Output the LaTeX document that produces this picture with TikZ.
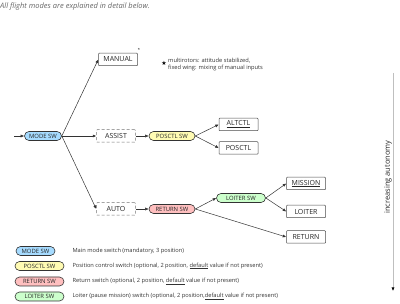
\documentclass[tikz,border=0pt]{standalone}
\usepackage{fontspec}
\setmainfont{Open Sans}
\newfontfamily\symfont{DejaVu Sans}
\usetikzlibrary{arrows.meta}
\begin{document}
\begin{tikzpicture}
[x=1pt, y=-1pt, font=\fontsize{7}{8}\selectfont, >={Latex[length=3.5pt,width=3pt]}]

\tikzstyle{mode}=[draw=black!70, fill=white, line width=0.5pt, rounded corners=0.8pt, minimum width=39pt, minimum height=12.5pt, inner sep=0pt, text=black!85]
\tikzstyle{pending}=[mode, draw=black!55, densely dashed]
\tikzstyle{switch}=[draw=black!80, line width=0.6pt, rounded corners=4.5pt, minimum height=9pt, inner sep=1pt, font=\fontsize{5.9}{6}\selectfont, text=black!85]
\tikzstyle{legend}=[anchor=west, font=\fontsize{5.7}{6}\selectfont, text=black!80]
\tikzstyle{link}=[->, black!80, line width=0.5pt]

\useasboundingbox (0,0) rectangle (400,304);

% title
\node[anchor=west, inner sep=0pt, text=black!60, font=\fontsize{7.5}{8}\selectfont\itshape] (title) at (0,7) {All flight modes are explained in detail below.};

% switches
\node[switch, fill=blue!40!cyan!35, minimum width=37pt]   (modesw)   at (43,136)  {MODE SW};
\node[switch, fill=yellow!30, minimum width=46pt]          (posctlsw) at (172,136) {POSCTL SW};
\node[switch, fill=red!25, minimum width=46pt]             (returnsw) at (172,209) {RETURN SW};
\node[switch, fill=green!20, minimum width=49pt]           (loitersw) at (241,198) {LOITER SW};

% modes
\node[mode]    (manual)  at (118,59.5) {MANUAL};
\node[pending] (assist)  at (116,136)  {ASSIST};
\node[pending] (auto)    at (116,209)  {AUTO};
\node[mode]    (altctl)  at (238.5,124.5) {\underline{ALTCTL}};
\node[mode]    (posctl)  at (238.5,148)   {POSCTL};
\node[mode]    (mission) at (306,183.5)   {\underline{MISSION}};
\node[mode]    (loiter)  at (306,211.5)   {LOITER};
\node[mode]    (return)  at (306,237)     {RETURN};

% note on manual
\node[inner sep=0pt, font=\fontsize{4}{4}\selectfont] (ast) at (139,50) {*};
\node[inner sep=0pt, font=\fontsize{6}{6}\selectfont\symfont] (star) at (164,63) {★};
\node[anchor=north west, inner sep=0pt, align=left, font=\fontsize{5.7}{7.2}\selectfont, text=black!80] (note) at (168,57.5)
  {multirotors: attitude stabilized,\\fixed wing: mixing of manual inputs};

% connections
\coordinate (start) at (14,136);
\draw[link] (start) -- (modesw);
\draw[link] (modesw.east) -- (manual.west);
\draw[link] (modesw) -- (assist);
\draw[link] (modesw.east) -- (auto.west);
\draw[link] (assist) -- (posctlsw);
\draw[link] (posctlsw.east) -- (altctl.west);
\draw[link] (posctlsw.east) -- (posctl.west);
\draw[link] (auto) -- (returnsw);
\draw[link] (returnsw.east) -- (loitersw.west);
\draw[link] (returnsw.east) -- (return.west);
\draw[link] (loitersw.east) -- (mission.west);
\draw[link] (loitersw.east) -- (loiter.west);

% autonomy axis
\coordinate (axtop) at (393,73);
\coordinate (axbot) at (393,291);
\draw[black!25, line width=0.6pt, -{Latex[length=3.5pt,width=3pt,black]}] (axtop) -- (axbot);
\node[rotate=90, inner sep=0pt, text=black!85, font=\fontsize{7.5}{8}\selectfont] (axlabel) at (388,177) {increasing autonomy};

% legend
\node[switch, fill=blue!40!cyan!35, minimum width=39pt] (lmode)   at (35.5,251)  {MODE SW};
\node[switch, fill=yellow!30, minimum width=49pt]       (lposctl) at (39.5,266)  {POSCTL SW};
\node[switch, fill=red!25, minimum width=49pt]          (lreturn) at (39.5,281.5) {RETURN SW};
\node[switch, fill=green!20, minimum width=49pt]        (lloiter) at (39.5,296.5) {LOITER SW};
\node[legend] (tmode)   at (69,251)   {Main mode switch (mandatory, 3 position)};
\node[legend] (tposctl) at (69,266)   {Position control switch (optional, 2 position, \underline{default} value if not present)};
\node[legend] (treturn) at (69,281.5) {Return switch (optional, 2 position, \underline{default} value if not present)};
\node[legend] (tloiter) at (69,296.5) {Loiter (pause mission) switch (optional, 2 position,\underline{default} value if not present)};
\end{tikzpicture}
\end{document}
